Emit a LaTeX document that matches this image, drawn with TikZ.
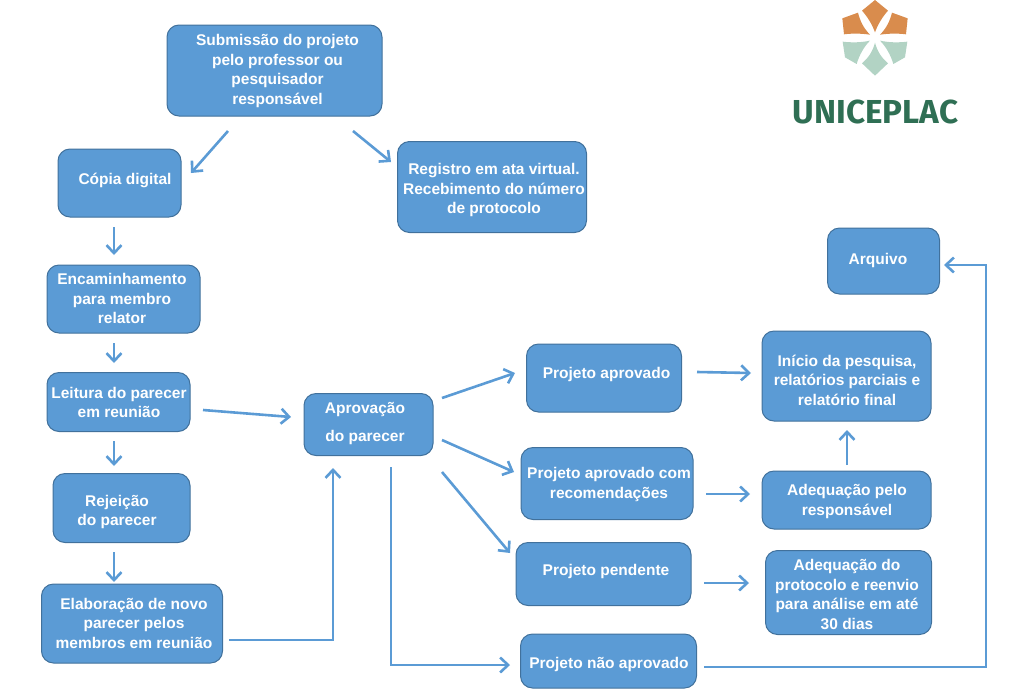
\documentclass[tikz,border=0pt]{standalone}
\usepackage{fontspec}
\setmainfont{Liberation Sans}
\newfontfamily\logofont{Fira Sans}
\usetikzlibrary{arrows.meta}
\definecolor{boxfill}{HTML}{5B9BD5}
\definecolor{boxline}{HTML}{41719C}
\definecolor{arrowc}{HTML}{5B9BD5}
\definecolor{logoor}{HTML}{D98C4D}
\definecolor{logogr}{HTML}{B2D3C4}
\definecolor{logotx}{HTML}{2F6F54}
\tikzset{
 flowbox/.style={draw=boxline,line width=1pt,fill=boxfill,rounded corners=12pt,inner sep=0pt,anchor=center},
 flowtext/.style={text=white,font=\fontsize{15.5}{19.5}\selectfont\bfseries,align=center,inner sep=0pt},
 conn/.style={draw=arrowc,line width=2.6pt,-{Straight Barb[length=8pt,width=15pt,line width=2.6pt]}},
}
\begin{document}
\begin{tikzpicture}[x=1pt,y=-1pt]
\useasboundingbox (0,0) rectangle (1024,691);
\newcommand{\boxnode}[8]{\node[flowbox,minimum width=#4pt,minimum height=#5pt,label={[flowtext,xshift=#6pt,yshift=-#7pt]center:{#8}}] (#1) at (#2,#3) {};}
\boxnode{sub}{274.5}{70.5}{215}{91}{3}{0.5}{Submissão do projeto\\pelo professor ou\\pesquisador\\responsável}
\boxnode{cop}{119.5}{183}{123}{68}{5.5}{-3}{Cópia digital}
\boxnode{reg}{492}{187}{189}{91}{2}{3}{Registro em ata virtual.\\Recebimento do número\\de protocolo}
\boxnode{enc}{123.5}{299}{153}{68}{-1.5}{-0.5}{Encaminhamento\\para membro\\relator}
\boxnode{lei}{118.5}{402}{143}{59}{0.5}{0.5}{Leitura do parecer\\em reunião}
\boxnode{rej}{121.5}{508}{137}{69}{-4.5}{4}{Rejeição\\do parecer}
\boxnode{ela}{132}{623.5}{181}{79}{2}{-0.5}{Elaboração de novo\\parecer pelos\\membros em reunião}
\boxnode{apr}{368.5}{424.5}{129}{62}{-3.5}{-1}{Aprovação\\[9pt]do parecer}
\boxnode{pa}{604}{378}{155}{68}{2.5}{-4}{Projeto aprovado}
\boxnode{par}{607}{483.5}{172}{72}{2}{1}{Projeto aprovado com\\recomendações}
\boxnode{pp}{603.5}{574}{175}{63}{2.5}{-3}{Projeto pendente}
\boxnode{pn}{608.5}{661}{176}{54}{0.5}{3}{Projeto não aprovado}
\boxnode{ini}{846.5}{376}{169}{90}{0.5}{4}{Início da pesquisa,\\relatórios parciais e\\relatório final}
\boxnode{ade}{846.5}{500}{169}{58}{0.5}{1.5}{Adequação pelo\\responsável}
\boxnode{adp}{848.5}{592.5}{166}{84}{-1.5}{2}{Adequação do\\protocolo e reenvio\\para análise em até\\30 dias}
\boxnode{arq}{883.5}{261}{112}{66}{-5.5}{-1}{Arquivo}
% connector end points
\foreach \n/\x/\y in {a1/228/131,a2/191/173,b1/353/131,b2/391/162,c1/114/227,c2/114/255,d1/114/343,d2/114/363,e1/114/441,e2/114/466,f1/114/552,f2/114/582,g1/203/410,g2/291/417,h1/229/640,h3/333/468,i1/442/398,i2/515/373,j1/442/440,j2/514/472,k1/442/472,k2/510/553,l1/391/467,l3/510/665,m1/697/372,m2/751/373,n1/706/494,n2/750/494,o1/847/465,o2/847/430,p1/704/583,p2/749/583,q1/704/667,q3/944/265}
  {\coordinate (\n) at (\x,\y);}
\coordinate (h2) at (333,640);
\coordinate (l2) at (391,665);
\coordinate (q2a) at (986,667);
\coordinate (q2b) at (986,265);
\draw[conn] (a1) -- (a2);
\draw[conn] (b1) -- (b2);
\draw[conn] (c1) -- (c2);
\draw[conn] (d1) -- (d2);
\draw[conn] (e1) -- (e2);
\draw[conn] (f1) -- (f2);
\draw[conn] (g1) -- (g2);
\draw[conn] (h1) -- (h2) -- (h3);
\draw[conn] (i1) -- (i2);
\draw[conn] (j1) -- (j2);
\draw[conn] (k1) -- (k2);
\draw[conn] (l1) -- (l2) -- (l3);
\draw[conn] (m1) -- (m2);
\draw[conn] (n1) -- (n2);
\draw[conn] (o1) -- (o2);
\draw[conn] (p1) -- (p2);
\draw[conn] (q1) -- (q2a) -- (q2b) -- (q3);
% logo
\begin{scope}[shift={(780,0)},x=0.3333pt,y=-0.3333pt]
\fill[logoor] (285,0) -- (324,32) .. controls (308,50) and (294,72) .. (285,97) .. controls (276,72) and (262,50) .. (246,32) -- cycle;
\fill[logoor] (234,38) .. controls (240,62) and (250,84) .. (270,104) .. controls (242,100) and (215,100) .. (192,103) -- (187,55) -- cycle;
\fill[logoor] (336,38) .. controls (330,62) and (320,84) .. (300,104) .. controls (328,100) and (355,100) .. (378,103) -- (383,55) -- cycle;
\fill[logogr] (188,125) .. controls (215,128) and (242,128) .. (270,122) .. controls (252,140) and (238,165) .. (230,192) -- (195,172) -- cycle;
\fill[logogr] (382,125) .. controls (355,128) and (328,128) .. (300,122) .. controls (318,140) and (332,165) .. (340,192) -- (375,172) -- cycle;
\fill[logogr] (285,128) .. controls (292,155) and (306,175) .. (324,190) -- (285,227) -- (246,190) .. controls (264,175) and (278,155) .. (285,128) -- cycle;
\end{scope}
\node[text=logotx,font=\logofont\fontsize{33.2}{34}\selectfont\bfseries,inner sep=0pt] (logo) at (875.5,112) {UNICEPLAC};
\end{tikzpicture}
\end{document}
